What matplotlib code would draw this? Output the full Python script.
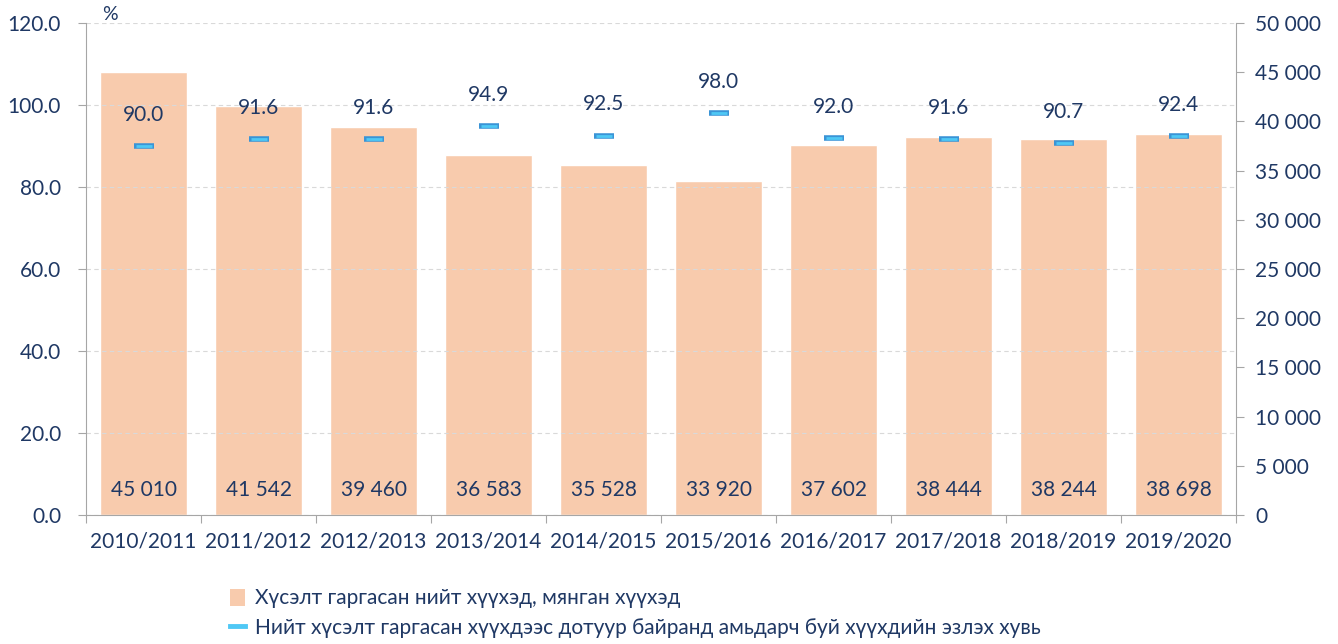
import matplotlib
matplotlib.use("Agg")
import matplotlib.pyplot as plt
from matplotlib.lines import Line2D
from matplotlib.patches import Patch
from matplotlib.ticker import FuncFormatter, MultipleLocator

categories = ["2010/2011", "2011/2012", "2012/2013", "2013/2014", "2014/2015",
              "2015/2016", "2016/2017", "2017/2018", "2018/2019", "2019/2020"]
applicants = [45010, 41542, 39460, 36583, 35528, 33920, 37602, 38444, 38244, 38698]
share_pct = [90.0, 91.6, 91.6, 94.9, 92.5, 98.0, 92.0, 91.6, 90.7, 92.4]
legend_bar = "Хүсэлт гаргасан нийт хүүхэд, мянган хүүхэд"
legend_line = "Нийт хүсэлт гаргасан хүүхдээс дотуур байранд амьдарч буй хүүхдийн эзлэх хувь"

TXT = "#1F3864"
BAR = "#F8CBAD"
plt.rcParams['font.family'] = ['Lato', 'DejaVu Sans']

fig = plt.figure(figsize=(13.38, 6.44), dpi=100)
ax = fig.add_axes([0.0643, 0.2003, 0.8595, 0.764])
ax2 = ax.twinx()

x = list(range(len(categories)))
def fmt_space(v, pos=None):
    return f"{int(round(v)):,}".replace(",", " ")

# bars on right axis
ax2.bar(x, applicants, width=0.75, color=BAR, edgecolor="white", linewidth=1, zorder=2)
ax2.set_ylim(0, 50000)
ax2.yaxis.set_major_locator(MultipleLocator(5000))
ax2.yaxis.set_major_formatter(FuncFormatter(fmt_space))
for xi, v in zip(x, applicants):
    ax2.text(xi, 2500, fmt_space(v), ha="center", va="center", fontsize=15, color=TXT, zorder=5)

# left axis
ax.set_ylim(0, 120)
ax.yaxis.set_major_locator(MultipleLocator(20))
ax.yaxis.set_major_formatter(FuncFormatter(lambda v, p: f"{v:.1f}"))
ax.set_xlim(-0.5, len(categories) - 0.5)
ax.grid(axis="y", color="#D9D9D9", linestyle=(0, (4, 3)), linewidth=0.8)
ax.set_axisbelow(True)

ax.set_zorder(ax2.get_zorder() + 1)
ax.patch.set_visible(False)

ax.plot(x, share_pct, linestyle="none", marker="_", markersize=14, mew=4, color="#3A94D6", zorder=4)
ax.plot(x, share_pct, linestyle="none", marker="_", markersize=12, mew=2, color="#4FC8F5", zorder=5)
for xi, v in zip(x, share_pct):
    ax.annotate(f"{v:.1f}", (xi, v), xytext=(0, 22.5), textcoords="offset points",
                ha="center", va="center", fontsize=15, color=TXT, zorder=6)

ax.set_xticks([i - 0.5 for i in range(len(categories) + 1)])
ax.set_xticklabels([])
ax.set_xticks(x, minor=True)
ax.set_xticklabels(categories, minor=True, fontsize=15, color=TXT)
ax.tick_params(axis="x", which="minor", length=0, pad=12)
ax.tick_params(axis="x", which="major", length=6, color="#A6A6A6", direction="out")
ax.tick_params(axis="y", length=6, color="#A6A6A6", labelsize=15, labelcolor=TXT, pad=12)
ax2.tick_params(axis="y", length=6, color="#A6A6A6", labelsize=15, labelcolor=TXT, pad=8)

for a in (ax, ax2):
    a.spines["top"].set_visible(False)
    a.spines["left"].set_color("#A6A6A6")
    a.spines["right"].set_color("#A6A6A6")
    a.spines["bottom"].set_color("#A6A6A6")
ax.spines["right"].set_visible(False)
ax2.spines["left"].set_visible(False)
ax2.spines["bottom"].set_visible(False)

fig.text(102 / 1338, 1 - 15 / 644, "%", fontsize=14, color=TXT, ha="left", va="center")

handles = [Patch(facecolor=BAR, edgecolor="none"),
           Line2D([0], [0], color="#4FC8F5", lw=3.5)]
leg = fig.legend(handles, [legend_bar, legend_line], loc="upper left",
                 bbox_to_anchor=(222 / 1338, 1 - 580 / 644), frameon=False,
                 fontsize=15, handlelength=0.7, handleheight=0.9, handletextpad=0.5,
                 labelspacing=0.45, borderaxespad=0)
for t in leg.get_texts():
    t.set_color(TXT)

fig.savefig("out.png", dpi=100)
